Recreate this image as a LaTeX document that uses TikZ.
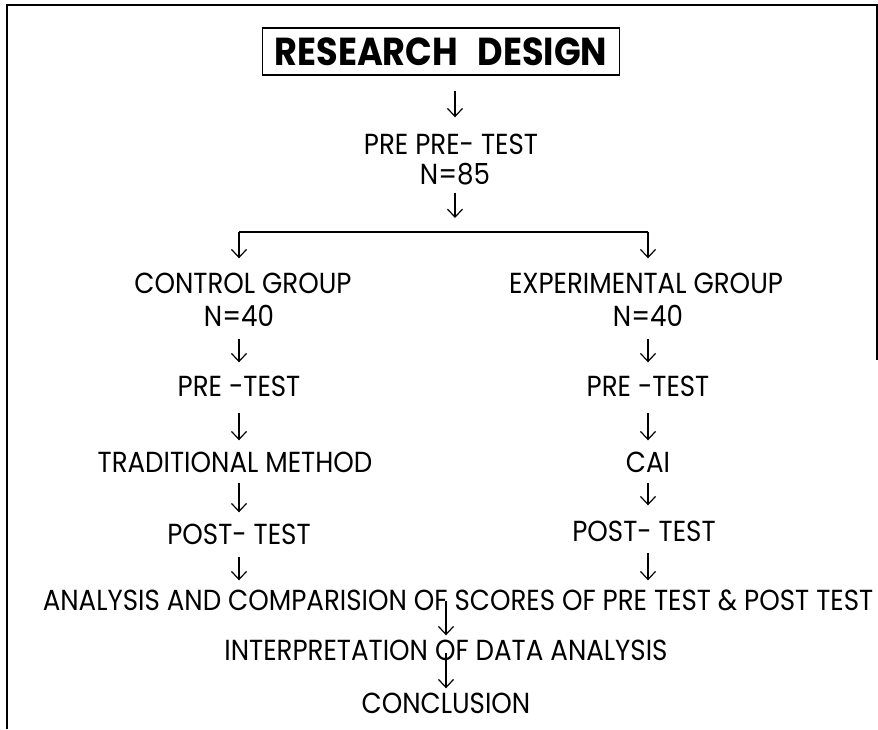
\documentclass[tikz,border=0pt]{standalone}
\usepackage{fontspec}
\setmainfont{Poppins}[FakeStretch=0.9]
\usetikzlibrary{arrows.meta}
\newcommand{\lcol}{239}
\newcommand{\rcol}{648}

\begin{document}
\begin{tikzpicture}[x=1pt, y=-1pt,
    lbl/.style={font=\fontsize{29}{32}\selectfont, inner sep=0pt, text height=19pt, text depth=0pt},
    ttl/.style={draw, line width=1.2pt, font=\fontsize{39}{42}\selectfont\bfseries, minimum width=357pt, minimum height=47pt, inner sep=0pt},
    arr/.style={-{Straight Barb[length=8pt,width=15pt]}, line width=1.2pt}]
    \useasboundingbox (0,0) rectangle (878,729);
    % Frame
    \draw[line width=1.5pt] (7,729) -- (7,5) -- (877,5) -- (877,360);

    % Top
    \node[ttl] (title) at (441,51.5) {RESEARCH\hspace{0.5em}DESIGN};
    \node[lbl] (prepre) at (451,145) {PRE PRE- TEST};
    \node[lbl] (n85) at (455,175) {N=85};

    % Left column
    \node[lbl] (ctrl) at (243,284) {CONTROL GROUP};
    \node[lbl] (nctrl) at (\lcol,317) {N=40};
    \node[lbl] (prectrl) at (\lcol,387) {PRE -TEST};
    \node[lbl] (trad) at (235,463) {TRADITIONAL METHOD};
    \node[lbl] (postctrl) at (\lcol,535) {POST- TEST};

    % Right column
    \node[lbl] (expt) at (646,284) {EXPERIMENTAL GROUP};
    \node[lbl] (nexpt) at (\rcol,317) {N=40};
    \node[lbl] (preexpt) at (\rcol,387) {PRE -TEST};
    \node[lbl] (cai) at (\rcol,463) {CAI};
    \node[lbl] (postexpt) at (644,532) {POST- TEST};

    % Bottom
    \node[lbl] (anal) at (458,601) {ANALYSIS AND COMPARISION OF SCORES OF PRE TEST \& POST TEST};
    \node[lbl] (interp) at (446,651) {INTERPRETATION OF DATA ANALYSIS};
    \node[lbl] (concl) at (446,704) {CONCLUSION};

    % Split
    \coordinate (split) at (455,232);
    \coordinate (lft) at (\lcol,232);
    \coordinate (rgt) at (\rcol,232);

    % Arrows
    \draw[arr, shorten <=15pt, shorten >=18pt] (title.south -| n85) -- (prepre.north -| n85);
    \draw[arr, shorten <=8pt, shorten >=14pt] (n85.south) -- (split);
    \draw[line width=1.5pt] (lft) -- (rgt);
    \draw[arr, shorten >=16pt] (lft) -- (lft |- ctrl.north);
    \draw[arr, shorten >=16pt] (rgt) -- (rgt |- expt.north);

    \draw[arr, shorten <=12pt, shorten >=15pt] (nctrl.south) -- (nctrl.south |- prectrl.north);
    \draw[arr, shorten <=16pt, shorten >=13pt] (prectrl.south) -- (prectrl.south |- trad.north);
    \draw[arr, shorten <=10pt, shorten >=13pt] (prectrl.south |- trad.south) -- (prectrl.south |- postctrl.north);
    \draw[arr, shorten <=12pt, shorten >=11pt] (postctrl.south) -- (postctrl.south |- anal.north);

    \draw[arr, shorten <=12pt, shorten >=15pt] (nexpt.south) -- (nexpt.south |- preexpt.north);
    \draw[arr, shorten <=16pt, shorten >=13pt] (preexpt.south) -- (cai.north);
    \draw[arr, shorten <=10pt, shorten >=17pt] (cai.south) -- (cai.south |- postexpt.north);
    \draw[arr, shorten <=11pt, shorten >=11pt] (cai.south |- postexpt.south) -- (cai.south |- anal.north);

    \draw[arr, shorten >=6pt] (anal.center -| interp) -- (interp.north);
    \draw[arr, shorten <=2pt, shorten >=6pt] (interp.center) -- (concl.north);
\end{tikzpicture}
\end{document}
